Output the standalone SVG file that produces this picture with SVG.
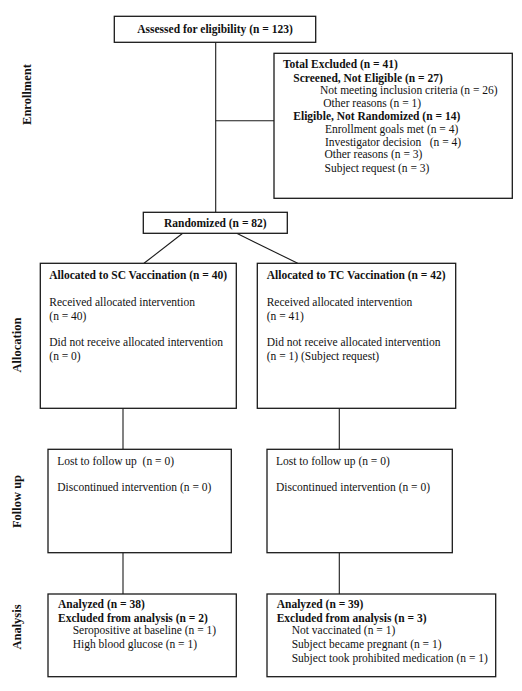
<svg xmlns="http://www.w3.org/2000/svg" width="522" height="691" viewBox="0 0 522 691">
<style>
.box{fill:#fff;stroke:#1a1a1a;stroke-width:1.3}
.ln{stroke:#1a1a1a;stroke-width:1.1;fill:none}
text{font-family:"Liberation Serif","Times New Roman",serif;font-size:11.5px;fill:#111}
.b{font-weight:bold}
.side{font-weight:bold;font-size:12.5px;text-anchor:middle}
.mid{text-anchor:middle}
</style>
<rect width="522" height="691" fill="#fff"/>
<g id="connectors">
<line class="ln" x1="215.7" y1="42.3" x2="215.7" y2="212.3"/>
<line class="ln" x1="215.7" y1="120.7" x2="274" y2="120.7"/>
<line class="ln" x1="182.7" y1="233.3" x2="144" y2="263.3"/>
<line class="ln" x1="236.7" y1="233.3" x2="297.7" y2="263.3"/>
<line class="ln" x1="123" y1="408.3" x2="123" y2="449.3"/>
<line class="ln" x1="339.3" y1="408.3" x2="339.3" y2="449.3"/>
<line class="ln" x1="123" y1="552.7" x2="123" y2="594"/>
<line class="ln" x1="339.3" y1="552.7" x2="339.3" y2="594"/>
</g>
<g id="labels">
<text class="side" transform="translate(31,94.5) rotate(-90)">Enrollment</text>
<text class="side" transform="translate(20.7,345) rotate(-90)">Allocation</text>
<text class="side" transform="translate(20.7,501.5) rotate(-90)">Follow up</text>
<text class="side" transform="translate(20.7,627) rotate(-90)">Analysis</text>
</g>
<g id="assessed">
<rect class="box" x="114.3" y="16.3" width="201.4" height="26"/>
<text class="b mid" x="215" y="33">Assessed for eligibility (n = 123)</text>
</g>
<g id="excluded">
<rect class="box" x="274" y="53.3" width="238.3" height="145"/>
<text class="b" x="283" y="67.7">Total Excluded (n = 41)</text>
<text class="b" x="293.3" y="81.5">Screened, Not Eligible (n = 27)</text>
<text x="320" y="94">Not meeting inclusion criteria (n = 26)</text>
<text x="323.3" y="106.7">Other reasons (n = 1)</text>
<text class="b" x="293.3" y="120.3">Eligible, Not Randomized (n = 14)</text>
<text x="325" y="132.7">Enrollment goals met (n = 4)</text>
<text x="325" y="145.7" xml:space="preserve">Investigator decision   (n = 4)</text>
<text x="324.5" y="158">Other reasons (n = 3)</text>
<text x="324.5" y="171.5">Subject request (n = 3)</text>
</g>
<g id="randomized">
<rect class="box" x="143.3" y="212.3" width="144" height="21"/>
<text class="b mid" x="215.3" y="226.7">Randomized (n = 82)</text>
</g>
<g id="alloc-sc">
<rect class="box" x="40.3" y="263.3" width="196" height="145"/>
<text class="b" x="49.3" y="279.3">Allocated to SC Vaccination (n = 40)</text>
<text x="49.3" y="306">Received allocated intervention</text>
<text x="49.3" y="320">(n = 40)</text>
<text x="49.3" y="346">Did not receive allocated intervention</text>
<text x="49.3" y="359.5">(n = 0)</text>
</g>
<g id="alloc-tc">
<rect class="box" x="257.3" y="263.3" width="198.4" height="145"/>
<text class="b" x="266.7" y="279.3">Allocated to TC Vaccination (n = 42)</text>
<text x="266.7" y="306">Received allocated intervention</text>
<text x="266.7" y="320">(n = 41)</text>
<text x="266.7" y="346">Did not receive allocated intervention</text>
<text x="266.7" y="359.5">(n = 1) (Subject request)</text>
</g>
<g id="follow-sc">
<rect class="box" x="48" y="449.3" width="183.3" height="103.4"/>
<text x="57.3" y="465" xml:space="preserve">Lost to follow up  (n = 0)</text>
<text x="57.3" y="491">Discontinued intervention (n = 0)</text>
</g>
<g id="follow-tc">
<rect class="box" x="267" y="449.3" width="185.3" height="103.4"/>
<text x="276" y="465">Lost to follow up (n = 0)</text>
<text x="276" y="491">Discontinued intervention (n = 0)</text>
</g>
<g id="analysis-sc">
<rect class="box" x="48" y="594" width="188.3" height="82.7"/>
<text class="b" x="58" y="607.7">Analyzed (n = 38)</text>
<text class="b" x="58" y="621.5">Excluded from analysis (n = 2)</text>
<text x="72.7" y="634.3">Seropositive at baseline (n = 1)</text>
<text x="72.7" y="647.5">High blood glucose (n = 1)</text>
</g>
<g id="analysis-tc">
<rect class="box" x="267" y="594" width="228.7" height="82.7"/>
<text class="b" x="276.7" y="607.7">Analyzed (n = 39)</text>
<text class="b" x="276.7" y="621.5">Excluded from analysis (n = 3)</text>
<text x="291.7" y="634.3">Not vaccinated (n = 1)</text>
<text x="291.7" y="647.5">Subject became pregnant (n = 1)</text>
<text x="291.7" y="661.5">Subject took prohibited medication (n = 1)</text>
</g>
</svg>
